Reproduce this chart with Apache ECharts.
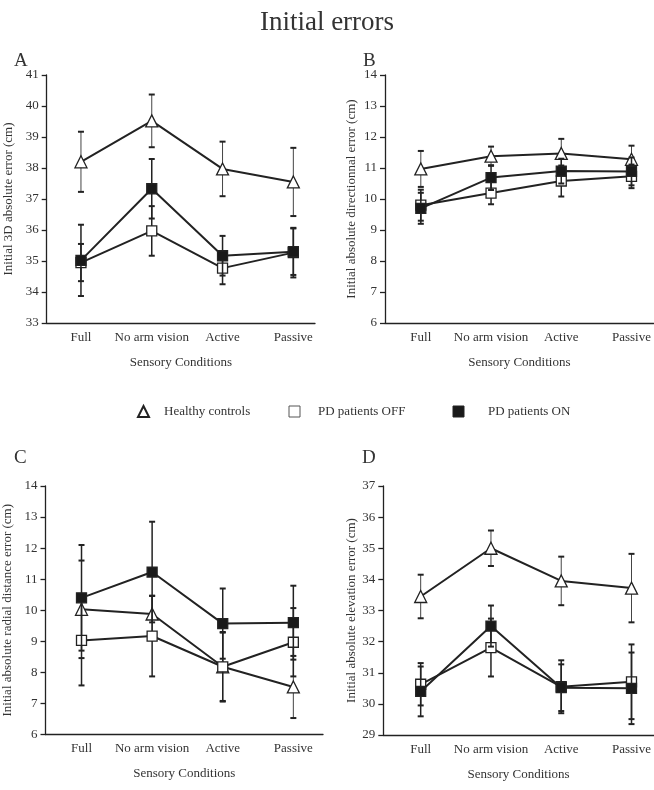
<!DOCTYPE html>
<html>
<head>
<meta charset="utf-8">
<script src="https://cdn.jsdelivr.net/npm/echarts@6/dist/echarts.min.js"></script>
<style>html,body{margin:0;padding:0;background:#fff}#c{width:654px;height:790px}</style>
</head>
<body>
<div id="c"></div>
<script>
// ---- data ----
const categories = ['Full', 'No arm vision', 'Active', 'Passive'];
const seriesNames = ['Healthy controls', 'PD patients OFF', 'PD patients ON'];

// Panel A: Initial 3D absolute error (cm)
const healthyA = [38.2, 39.52, 37.97, 37.55];
const healthyAErr = [0.97, 0.85, 0.88, 1.1];
const offA = [34.95, 35.97, 34.77, 35.27];
const offAErr = [0.6, 0.8, 0.52, 0.8];
const onA = [35.02, 37.33, 35.17, 35.3];
const onAErr = [1.15, 0.96, 0.64, 0.75];

// Panel B: Initial absolute directionnal error (cm)
const healthyB = [10.97, 11.38, 11.47, 11.28];
const healthyBErr = [0.58, 0.31, 0.47, 0.44];
const offB = [9.8, 10.19, 10.58, 10.73];
const offBErr = [0.5, 0.36, 0.5, 0.38];
const onB = [9.7, 10.69, 10.9, 10.89];
const onBErr = [0.5, 0.4, 0.4, 0.45];

// Panel C: Initial absolute radial distance error (cm)
const healthyC = [10.03, 9.88, 8.18, 7.53];
const healthyCErr = [1.57, 0.58, 1.1, 1.0];
const offC = [9.03, 9.17, 8.18, 8.97];
const offCErr = [1.45, 1.3, 1.12, 1.1];
const onC = [10.4, 11.23, 9.57, 9.6];
const onCErr = [1.7, 1.62, 1.13, 1.19];

// Panel D: Initial absolute elevation error (cm)
const healthyD = [33.45, 35.0, 33.95, 33.72];
const healthyDErr = [0.7, 0.57, 0.78, 1.1];
const offD = [30.63, 31.81, 30.55, 30.71];
const offDErr = [0.68, 0.93, 0.85, 1.2];
const onD = [30.4, 32.5, 30.52, 30.5];
const onDErr = [0.8, 0.66, 0.75, 1.15];

const yTitles = [
  'Initial 3D absolute error (cm)',
  'Initial absolute directionnal error (cm)',
  'Initial absolute radial distance error (cm)',
  'Initial absolute elevation error (cm)'
];
const yRanges = [[33, 41], [6, 14], [6, 14], [29, 37]];
const xAxisTitle = 'Sensory Conditions';
const panelLetters = ['A', 'B', 'C', 'D'];

const panels = [
  [[healthyA, healthyAErr], [offA, offAErr], [onA, onAErr]],
  [[healthyB, healthyBErr], [offB, offBErr], [onB, onBErr]],
  [[healthyC, healthyCErr], [offC, offCErr], [onC, onCErr]],
  [[healthyD, healthyDErr], [offD, offDErr], [onD, onDErr]]
];

// ---- layout ----
const FONT = '"Liberation Serif", "Times New Roman", serif';
const TXT = '#333';
const INK = '#222';
const grids = [
  {left: 46.7, top: 75, width: 268.3, height: 248},
  {left: 385, top: 75, width: 269, height: 248},
  {left: 45, top: 486, width: 278, height: 248.5},
  {left: 383.3, top: 486, width: 270.7, height: 249}
];
const xExt = [[0.516, 4.306], [0.49, 4.317], [0.49, 4.42], [0.468, 4.317]];
const yNameGap = [32, 26.5, 31.5, 25.5];
const letterPos = [[9, 47], [358, 47], [9, 444], [357, 444]];

const symbolStyles = [
  {symbol: 'triangle', size: 12, color: '#fff', errColor: '#444', errWidth: 1},
  {symbol: 'rect', size: 10, color: '#fff', errColor: INK, errWidth: 1.5},
  {symbol: 'rect', size: 10, color: '#1a1a1a', errColor: INK, errWidth: 1.5}
];

function errRender(style) {
  return function (params, api) {
    const x = api.value(0), lo = api.value(1), hi = api.value(2);
    const p1 = api.coord([x, lo]), p2 = api.coord([x, hi]);
    const w = 3;
    const ls = {stroke: style.errColor, lineWidth: style.errWidth};
    const cs = {stroke: INK, lineWidth: 2};
    return {
      type: 'group',
      children: [
        {type: 'line', shape: {x1: p1[0], y1: p1[1], x2: p2[0], y2: p2[1]}, style: ls},
        {type: 'line', shape: {x1: p1[0] - w, y1: p1[1], x2: p1[0] + w, y2: p1[1]}, style: cs},
        {type: 'line', shape: {x1: p2[0] - w, y1: p2[1], x2: p2[0] + w, y2: p2[1]}, style: cs}
      ]
    };
  };
}

const xAxes = [], yAxes = [], series = [];
panels.forEach((panel, pi) => {
  xAxes.push({
    type: 'value', gridIndex: pi, min: xExt[pi][0], max: xExt[pi][1],
    name: xAxisTitle, nameLocation: 'middle', nameGap: 33,
    nameTextStyle: {fontFamily: FONT, fontSize: 13, color: TXT},
    axisLine: {show: true, lineStyle: {color: INK, width: 1.3}},
    axisTick: {show: false},
    splitLine: {show: false},
    axisLabel: {
      customValues: [1, 2, 3, 4],
      margin: 8, fontFamily: FONT, fontSize: 13, color: TXT,
      formatter: v => (Math.abs(v - Math.round(v)) < 1e-6 && v >= 1 && v <= 4) ? categories[Math.round(v) - 1] : ''
    }
  });
  yAxes.push({
    type: 'value', gridIndex: pi, min: yRanges[pi][0], max: yRanges[pi][1], interval: 1,
    name: yTitles[pi], nameLocation: 'middle', nameGap: yNameGap[pi],
    nameTextStyle: {fontFamily: FONT, fontSize: 13, color: TXT},
    axisLine: {show: true, lineStyle: {color: INK, width: 1.3}},
    axisTick: {show: true, length: 5, lineStyle: {color: INK, width: 1.3}},
    splitLine: {show: false},
    axisLabel: {margin: 8, fontFamily: FONT, fontSize: 13, color: TXT}
  });
  panel.forEach((pair, si) => {
    const vals = pair[0], errs = pair[1];
    const st = symbolStyles[si];
    series.push({
      type: 'custom', name: seriesNames[si], xAxisIndex: pi, yAxisIndex: pi, z: 1 + si * 2,
      renderItem: errRender(st), encode: {x: 0, y: [1, 2]}, silent: true,
      data: vals.map((v, i) => [i + 1, v - errs[i], v + errs[i]])
    });
    series.push({
      type: 'line', name: seriesNames[si], xAxisIndex: pi, yAxisIndex: pi, z: 2 + si * 2,
      data: vals.map((v, i) => [i + 1, v]),
      symbol: st.symbol, symbolSize: st.size, showAllSymbol: true,
      lineStyle: {color: INK, width: 2},
      itemStyle: {color: st.color, borderColor: INK, borderWidth: 1.3, opacity: 1},
      emphasis: {disabled: true}
    });
  });
});

const titles = [{
  text: 'Initial errors', left: 'center', top: 4,
  textStyle: {fontFamily: FONT, fontSize: 27, fontWeight: 'normal', color: TXT}
}];
panelLetters.forEach((l, i) => titles.push({
  text: l, left: letterPos[i][0], top: letterPos[i][1],
  textStyle: {fontFamily: FONT, fontSize: 19, fontWeight: 'normal', color: TXT}
}));

const legendBase = {
  top: 405, itemWidth: 11, itemHeight: 11, padding: 0,
  textStyle: {fontFamily: FONT, fontSize: 13, color: TXT}
};
const legends = [
  Object.assign({}, legendBase, {left: 137, data: [{name: seriesNames[0], icon: 'triangle', itemStyle: {color: '#fff', borderColor: INK, borderWidth: 2}}], textStyle: Object.assign({}, legendBase.textStyle, {padding: [0, 0, 0, 10]})}),
  Object.assign({}, legendBase, {left: 288.5, data: [{name: seriesNames[1], icon: 'rect', itemStyle: {color: '#fff', borderColor: '#555', borderWidth: 1}}], textStyle: Object.assign({}, legendBase.textStyle, {padding: [0, 0, 0, 13]})}),
  Object.assign({}, legendBase, {left: 452.5, data: [{name: seriesNames[2], icon: 'rect', itemStyle: {color: '#1a1a1a', borderColor: INK, borderWidth: 1}}], textStyle: Object.assign({}, legendBase.textStyle, {padding: [0, 0, 0, 19]})})
];

const chart = echarts.init(document.getElementById('c'), null, {renderer: 'canvas'});
chart.setOption({
  backgroundColor: '#fff',
  animation: false,
  title: titles,
  legend: legends,
  grid: grids,
  xAxis: xAxes,
  yAxis: yAxes,
  series: series
});
</script>
</body>
</html>
